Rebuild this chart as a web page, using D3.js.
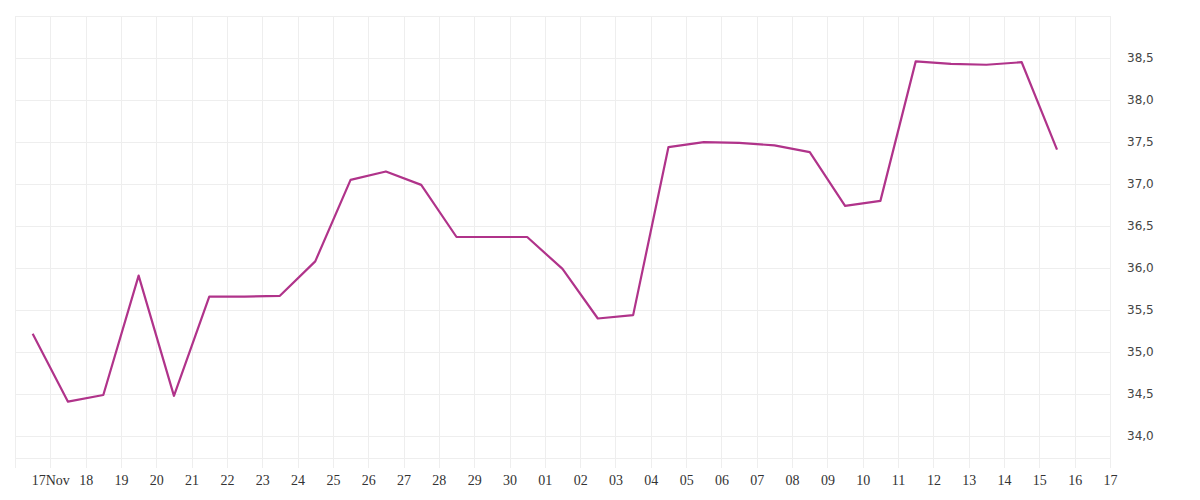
<html>
<script src='https://d3js.org/d3.v7.min.js'></script>
<body style='margin:0' onload='init()'>
<svg width=1200 height=500></svg>
<script>
var values = [35.22, 34.41, 34.49, 35.91, 34.48, 35.66, 35.66, 35.67, 36.08, 37.05,
  37.15, 36.99, 36.37, 36.37, 36.37, 35.99, 35.40, 35.44, 37.44, 37.50,
  37.49, 37.46, 37.38, 36.74, 36.80, 38.46, 38.43, 38.42, 38.45, 37.41];
var startDay = new Date(2023, 10, 16, 12);
var yTicks = [34.0, 34.5, 35.0, 35.5, 36.0, 36.5, 37.0, 37.5, 38.0, 38.5];

function init() {
  var svg = d3.select("svg");
  var dates = values.map(function(v, i) { return d3.timeDay.offset(startDay, i); });

  var x = d3.scaleTime().domain([new Date(2023, 10, 16), new Date(2023, 11, 17)]).range([15, 1110]);
  var y = d3.scaleLinear().domain([33.74, 39.0]).range([458, 16]);

  var days = d3.timeDay.range(new Date(2023, 10, 16), new Date(2023, 11, 18));

  // grid
  var g = svg.append("g").attr("stroke", "#eeeeee").attr("stroke-width", 1);
  g.selectAll(".v").data(days).enter().append("line")
    .attr("x1", function(d) { return Math.round(x(d)) + 0.5; })
    .attr("x2", function(d) { return Math.round(x(d)) + 0.5; })
    .attr("y1", 16).attr("y2", 468);
  g.selectAll(".h").data(yTicks.concat([39.0, 33.74])).enter().append("line")
    .attr("x1", 15).attr("x2", 1110)
    .attr("y1", function(d) { return Math.round(y(d)) + 0.5; })
    .attr("y2", function(d) { return Math.round(y(d)) + 0.5; });

  // y labels
  var yAxis = d3.axisRight(y).tickValues(yTicks).tickSize(0).tickPadding(0)
    .tickFormat(function(d) { return d3.format(".1f")(d).replace(".", ","); });
  svg.append("g").attr("transform", "translate(1127,0)").call(yAxis)
    .call(function(s) { s.select(".domain").remove(); })
    .selectAll("text").attr("fill", "#444").style("font-family", "DejaVu Sans, sans-serif").style("font-size", "12px");

  // x labels
  var labelDays = days.slice(1, 32);
  var xAxis = d3.axisBottom(x).tickValues(labelDays).tickSize(0).tickPadding(0)
    .tickFormat(function(d) {
      return d.getDate() === 17 && d.getMonth() === 10 ? "17Nov" : d3.timeFormat("%d")(d);
    });
  svg.append("g").attr("transform", "translate(0,475)").call(xAxis)
    .call(function(s) { s.select(".domain").remove(); })
    .selectAll("text").attr("fill", "#333").style("font-family", "Liberation Serif, serif").style("font-size", "14px");

  // line
  var line = d3.line().x(function(d, i) { return x(dates[i]); }).y(function(d) { return y(d); });
  svg.append("path").datum(values).attr("d", line)
    .attr("fill", "none").attr("stroke", "#b0338a").attr("stroke-width", 2.2).attr("stroke-linejoin", "round");
}
</script>
</body>
</html>
